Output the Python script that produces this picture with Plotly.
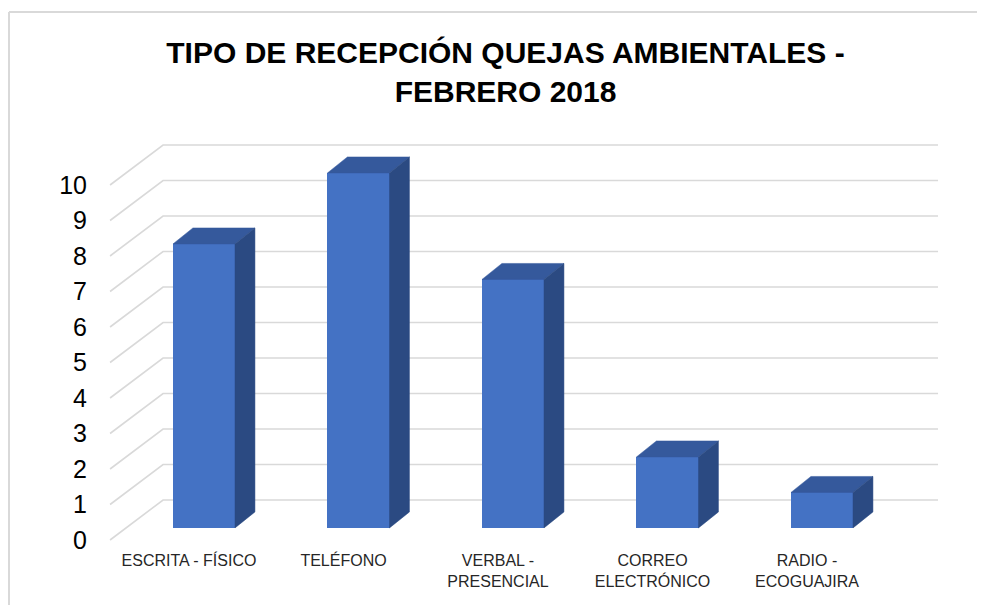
import plotly.graph_objects as go

# ---- data ----
categories = ["ESCRITA - FÍSICO", "TELÉFONO", "VERBAL -<br>PRESENCIAL",
              "CORREO<br>ELECTRÓNICO", "RADIO -<br>ECOGUAJIRA"]
values = [8, 10, 7, 2, 1]
y_ticks = list(range(0, 11))

# ---- 3D geometry (in axis units) ----
half_w = 0.2007        # half width of bar front face (category units)
bar_base = 0.34        # front face of bars sits behind the front plane
depth_dx = 0.129       # bar depth, x
depth_dy = 0.45        # bar depth, y
wall_dx = 0.343        # back wall offset, x
wall_dy = 1.127        # back wall offset, y
grid_left = -0.608
grid_right = 4.751
label_shift = -0.097

front_c = "#4472C4"
top_c = "#35599C"
side_c = "#2B4A82"
grid_c = "#D9D9D9"
FONT = "Liberation Sans, Arial, sans-serif"

pos = list(range(len(values)))

fig = go.Figure()

# front faces
fig.add_trace(go.Bar(
    x=pos, y=values, base=[bar_base] * len(values), width=2 * half_w,
    marker=dict(color=front_c, line=dict(width=0)), hoverinfo="skip",
    showlegend=False))

# top and side faces
tx, ty, sx, sy = [], [], [], []
for i, v in zip(pos, values):
    top = bar_base + v
    tx += [i - half_w, i - half_w + depth_dx, i + half_w + depth_dx, i + half_w, i - half_w, None]
    ty += [top, top + depth_dy, top + depth_dy, top, top, None]
    sx += [i + half_w, i + half_w + depth_dx, i + half_w + depth_dx, i + half_w, i + half_w, None]
    sy += [bar_base, bar_base + depth_dy, top + depth_dy, top, bar_base, None]

fig.add_trace(go.Scatter(x=tx, y=ty, mode="lines", fill="toself", fillcolor=top_c,
                         line=dict(width=0.5, color=top_c), hoverinfo="skip", showlegend=False))
fig.add_trace(go.Scatter(x=sx, y=sy, mode="lines", fill="toself", fillcolor=side_c,
                         line=dict(width=0.5, color=side_c), hoverinfo="skip", showlegend=False))

# gridlines (front diagonal + back wall)
shapes = []
for t in y_ticks:
    path = (f"M {grid_left},{t} L {grid_left + wall_dx},{t + wall_dy} "
            f"L {grid_right},{t + wall_dy}")
    shapes.append(dict(type="path", path=path, xref="x", yref="y",
                       line=dict(color=grid_c, width=1.6), layer="below"))

# layout geometry (figure pixels)
W, H = 985, 605
L, R, T, B = 100, 35, 130, 64
X0, XS = 196, 154.5      # pixel of first category, pixels per category
Y0, YS = 532, 35.5       # pixel of value 0 on the front plane, pixels per unit
pw, ph = W - L - R, H - T - B
def px(x):
    return (x - L) / pw
def py(y):
    return (H - B - y) / ph

# outer chart border (top and left)
shapes.append(dict(type="line", xref="paper", yref="paper",
                   x0=px(1), x1=px(W + 5), y0=py(4), y1=py(4),
                   line=dict(color=grid_c, width=2)))
shapes.append(dict(type="line", xref="paper", yref="paper",
                   x0=px(1), x1=px(1), y0=py(4), y1=py(H + 5),
                   line=dict(color=grid_c, width=2)))

fig.update_layout(
    width=W, height=H,
    margin=dict(l=L, r=R, t=T, b=B),
    paper_bgcolor="white", plot_bgcolor="white",
    shapes=shapes,
    title=dict(text="<b>TIPO DE RECEPCIÓN QUEJAS AMBIENTALES -<br>FEBRERO 2018</b>",
               x=497.5 / W, xanchor="center", y=1 - 54.5 / H, yanchor="middle",
               yref="container",
               font=dict(family=FONT, size=30, color="black")),
    annotations=[dict(text="<b>Gráfico No. 1</b>", xref="paper", yref="paper",
                      x=px(496), y=py(5), xanchor="center", yanchor="bottom",
                      showarrow=False,
                      font=dict(family=FONT, size=16, color="black"))],
    xaxis=dict(range=[(L - X0) / XS, (W - R - X0) / XS],
               tickvals=[p + label_shift for p in pos], ticktext=categories,
               showgrid=False, zeroline=False, showline=False, ticks="",
               tickfont=dict(family=FONT, size=16, color="#262626"),
               fixedrange=True),
    yaxis=dict(range=[(Y0 - (H - B)) / YS, (Y0 - T) / YS],
               tickvals=y_ticks, ticktext=[str(t) for t in y_ticks],
               showgrid=False, zeroline=False, showline=False, ticks="",
               ticklabelstandoff=20,
               tickfont=dict(family=FONT, size=25, color="black"),
               fixedrange=True),
    bargap=0,
)

fig.write_html("out.html")
